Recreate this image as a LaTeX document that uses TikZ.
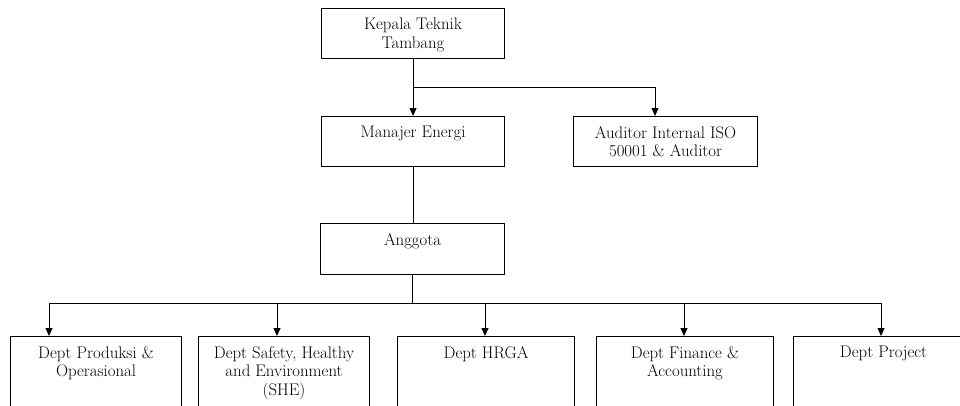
\documentclass[tikz,border=0pt]{standalone}
\usetikzlibrary{arrows.meta,calc}
\tikzset{
  unit/.style={draw,line width=1.1pt,anchor=north west,inner sep=0pt,minimum width=#1},
  unittext/.style={below=10pt,inner sep=0pt,align=center,font=\fontsize{16.8}{18.5}\selectfont},
  link/.style={line width=0.9pt},
  arrowlink/.style={link,-{Triangle[length=8pt,width=7pt]}}
}
\begin{document}
\begin{tikzpicture}[x=1pt,y=-1pt]
    \pgfmathsetmacro{\boxheight}{50}
    \pgfmathsetmacro{\deptheight}{90}  % runs past the lower edge
    \pgfmathsetmacro{\depttop}{336}
    \path[use as bounding box,clip] (0,0) rectangle (960,405);
    % upper levels
    \node[unit=183,minimum height=\boxheight,label={[unittext]north:{Kepala Teknik\\Tambang}}] (kt) at (321,8) {};
    \node[unit=183,minimum height=\boxheight,label={[unittext]north:{Manajer Energi}}] (me) at (321,116) {};
    \node[unit=184,minimum height=\boxheight,label={[unittext]north:{Auditor Internal ISO\\50001 \& Auditor}}] (au) at (573,116) {};
    \node[unit=184,minimum height=51,label={[unittext]north:{Anggota}}] (an) at (320,223) {};
    % departments
    \node[unit=171,minimum height=\deptheight,label={[unittext]north:{Dept Produksi \&\\Operasional}}] (d1) at (10,\depttop) {};
    \node[unit=171,minimum height=\deptheight,label={[unittext]north:{Dept Safety, Healthy\\and Environment\\(SHE)}}] (d2) at (198,\depttop) {};
    \node[unit=177,minimum height=\deptheight,label={[unittext]north:{Dept HRGA}}] (d3) at (397,\depttop) {};
    \node[unit=177,minimum height=\deptheight,label={[unittext]north:{Dept Finance \&\\Accounting}}] (d4) at (596,\depttop) {};
    \node[unit=180,minimum height=\deptheight,label={[unittext]north:{Dept Project}}] (d5) at (793,\depttop) {};
    % connectors
    \coordinate (split) at ($(kt.south)+(0,28)$);
    \coordinate (bus) at ($(an.south)+(0,28)$);
    \draw[link] (kt.south) -- (split);
    \draw[arrowlink] (split) -- (me.north);
    \draw[arrowlink] (split) -| ($(au.north west)+(82,0)$);
    \draw[link] (me.south) -- (me.south |- an.north);
    \draw[link] (an.south) -- (bus);
    \foreach \d/\off in {d1/39,d2/79,d3/88,d4/88,d5/88}
        \draw[arrowlink] (bus) -| ($(\d.north west)+(\off,0)$);
\end{tikzpicture}
\end{document}
